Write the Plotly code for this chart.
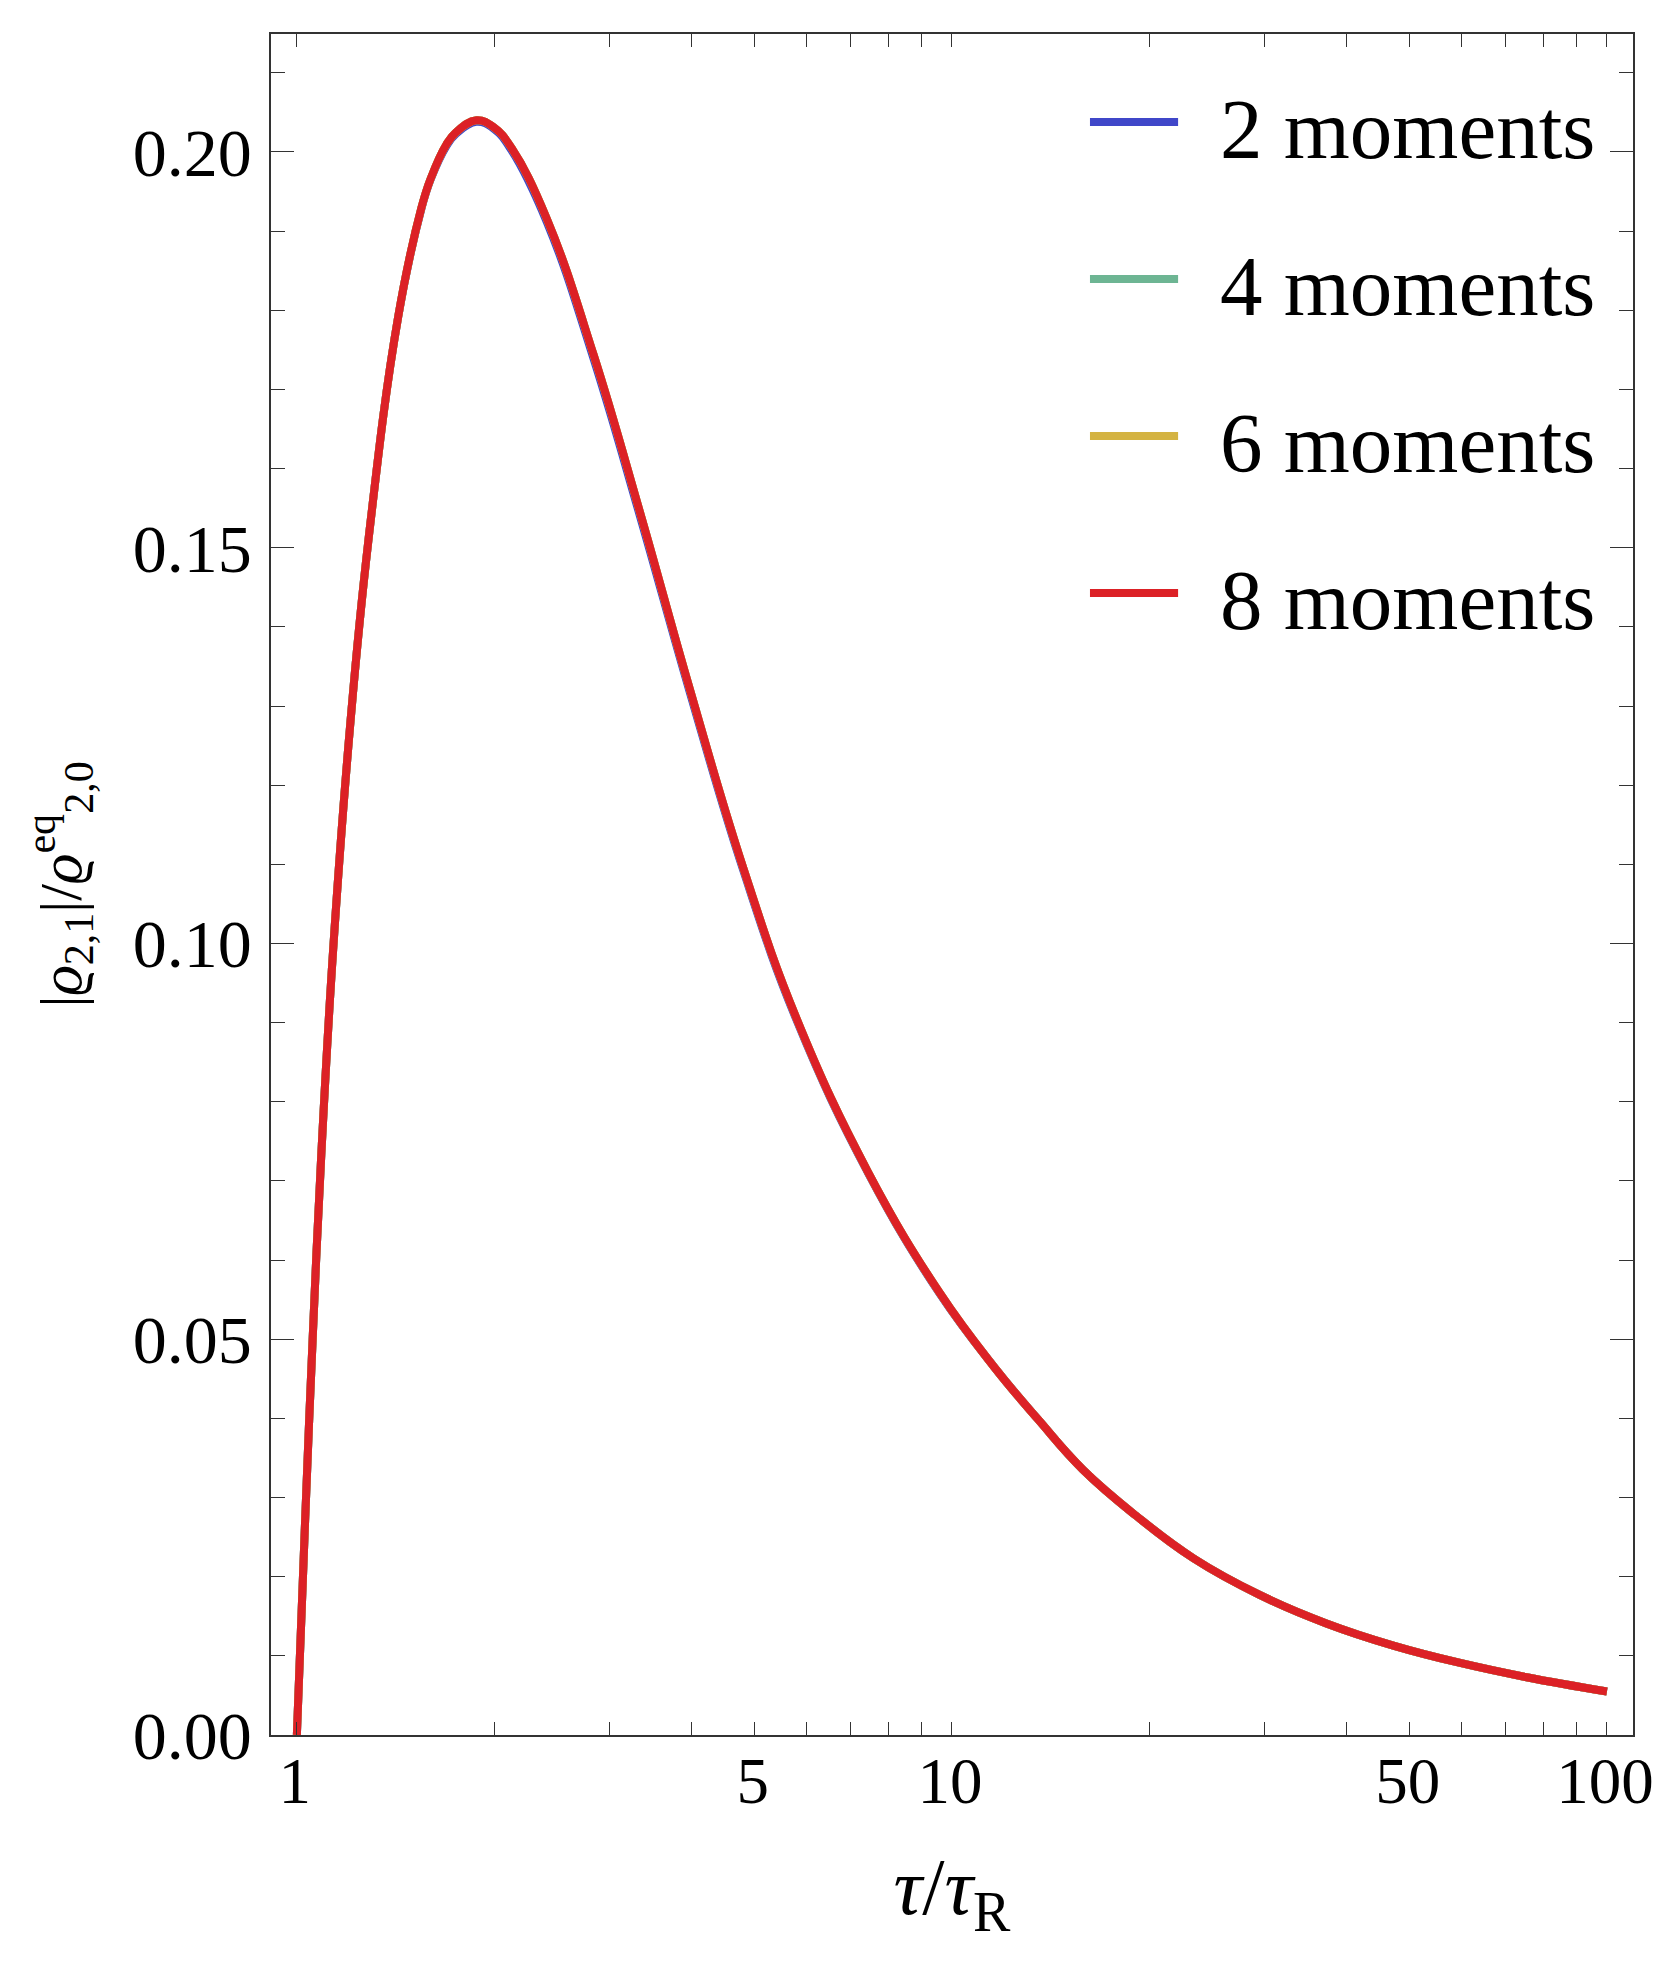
import plotly.graph_objects as go

# tau / tau_R sample points
tau = [1.0, 1.03, 1.057, 1.089, 1.136, 1.205, 1.285, 1.428, 1.55, 1.6, 1.693, 1.75,
       1.88, 2.0, 2.127, 2.409, 2.837, 3.34, 3.981, 4.8, 5.8, 7.46, 9.59, 11.6,
       13.56, 15.86, 19.11, 23.4, 29.5, 37.3, 47.2, 59.7, 75.4, 100.0]

moments_2 = [0.0, 0.0276, 0.0500, 0.0729, 0.0992, 0.1272, 0.1507, 0.1792, 0.1929, 0.1965, 0.2008, 0.2023,
             0.2038, 0.2029, 0.2002, 0.1911, 0.1739, 0.1540, 0.1317, 0.1093, 0.0902, 0.0709, 0.0557, 0.0465,
             0.0398, 0.0335, 0.0277, 0.0223, 0.0177, 0.0141, 0.0113, 0.0091, 0.0073, 0.0055]

moments_4 = [0.0, 0.0276, 0.0500, 0.0729, 0.0992, 0.1272, 0.1507, 0.1792, 0.1930, 0.1966, 0.2010, 0.2025,
             0.2040, 0.2031, 0.2005, 0.1915, 0.1744, 0.1545, 0.1321, 0.1096, 0.0904, 0.0710, 0.0558, 0.0465,
             0.0398, 0.0335, 0.0277, 0.0223, 0.0177, 0.0141, 0.0113, 0.0091, 0.0073, 0.0055]

moments_6 = [0.0, 0.0276, 0.0500, 0.0729, 0.0992, 0.1272, 0.1507, 0.1792, 0.1930, 0.1966, 0.2010, 0.2025,
             0.2040, 0.2031, 0.2005, 0.1915, 0.1744, 0.1545, 0.1321, 0.1096, 0.0904, 0.0710, 0.0558, 0.0465,
             0.0398, 0.0335, 0.0277, 0.0223, 0.0177, 0.0141, 0.0113, 0.0091, 0.0073, 0.0055]

moments_8 = [0.0, 0.0276, 0.0500, 0.0729, 0.0992, 0.1272, 0.1507, 0.1792, 0.1930, 0.1966, 0.2010, 0.2025,
             0.2040, 0.2031, 0.2005, 0.1915, 0.1744, 0.1545, 0.1321, 0.1096, 0.0904, 0.0710, 0.0558, 0.0465,
             0.0398, 0.0335, 0.0277, 0.0223, 0.0177, 0.0141, 0.0113, 0.0091, 0.0073, 0.0055]

series_names = ["2 moments", "4 moments", "6 moments", "8 moments"]
series_colors = ["#4047C9", "#6DB593", "#D4B342", "#DC2126"]

x_ticks = [1, 5, 10, 50, 100]
x_minor = [2, 3, 4, 6, 7, 8, 9, 20, 30, 40, 60, 70, 80, 90]
y_ticks = [0.0, 0.05, 0.10, 0.15, 0.20]
y_ticktext = ["0.00", "0.05", "0.10", "0.15", "0.20"]

FONT = "Liberation Serif, DejaVu Serif, serif"
AXIS = "#333333"

fig = go.Figure()

for name, color, vals in zip(series_names, series_colors,
                             [moments_2, moments_4, moments_6, moments_8]):
    fig.add_trace(go.Scatter(
        x=tau,
        y=vals,
        mode="lines",
        name=name,
        line=dict(color=color, width=8, shape="spline", smoothing=1.2),
        showlegend=False,
    ))

# legend drawn by hand (plotly's legend swatches are too short)
leg_y = [0.9483, 0.8560, 0.7637, 0.6714]
for name, color, yy in zip(series_names, series_colors, leg_y):
    fig.add_shape(type="line", xref="paper", yref="paper",
                  x0=0.6013, x1=0.666, y0=yy, y1=yy,
                  line=dict(color=color, width=8))
    fig.add_annotation(xref="paper", yref="paper", x=0.6953, y=yy - 0.004,
                       text=name, showarrow=False, xanchor="left", yanchor="middle",
                       font=dict(family=FONT, size=85, color="black"))

fig.update_xaxes(
    type="log",
    range=[-0.0395, 2.0398],
    tickvals=x_ticks,
    ticktext=[str(v) for v in x_ticks],
    ticks="inside",
    ticklen=13,
    tickwidth=1.2,
    tickcolor=AXIS,
    minor=dict(tickvals=x_minor, ticks="inside", ticklen=13, tickwidth=1.2, tickcolor=AXIS),
    showline=True,
    linecolor=AXIS,
    linewidth=1.5,
    mirror="ticks",
    showgrid=False,
    zeroline=False,
    automargin="bottom",
    ticklabelstandoff=-12,
    ticklabelshift=-2,
    ticklabeloverflow="allow",
    tickfont=dict(family=FONT, size=65, color="black"),
    title=dict(text="<i>τ</i>/<i>τ</i><sub>R</sub>", standoff=42,
               font=dict(family=FONT, size=80, color="black")),
)

fig.update_yaxes(
    range=[0, 0.2149],
    tickvals=y_ticks,
    ticktext=y_ticktext,
    ticks="inside",
    ticklen=23,
    tickwidth=1.2,
    tickcolor=AXIS,
    minor=dict(dtick=0.01, ticks="inside", ticklen=14, tickwidth=1.2, tickcolor=AXIS),
    showline=True,
    linecolor=AXIS,
    linewidth=1.5,
    mirror="ticks",
    showgrid=False,
    zeroline=False,
    automargin="left",
    ticklabelstandoff=4,
    tickfont=dict(family=FONT, size=68, color="black"),
    title=dict(text="|<i>ϱ</i><sub>2,1</sub>|/<i>ϱ</i><sup>eq</sup><sub>2,0</sub>", standoff=32,
               font=dict(family=FONT, size=60, color="black")),
)

# the page body keeps an 8px margin, so the figure is 16px smaller than the window
fig.update_layout(
    width=1645,
    height=1948,
    autosize=False,
    margin=dict(l=263, r=20, t=26, b=221),
    plot_bgcolor="white",
    paper_bgcolor="white",
)

fig.write_html("out.html", config={"displayModeBar": False})
